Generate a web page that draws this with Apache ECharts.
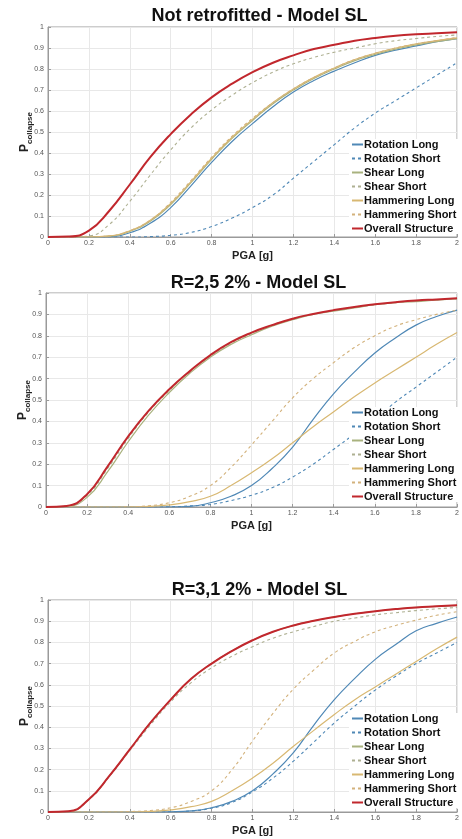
<!DOCTYPE html>
<html>
<head>
<meta charset="utf-8">
<script src="https://cdn.jsdelivr.net/npm/echarts@6/dist/echarts.min.js"></script>
<style>
  html, body { margin: 0; padding: 0; background: #fff; }
  #chart { width: 462px; height: 839px; }
</style>
</head>
<body>
<div id="chart"></div>
<script>
// PGA [g] sample points
const xs = [0, 0.1, 0.2, 0.3, 0.4, 0.5, 0.6, 0.7, 0.8, 0.9, 1.0, 1.1, 1.2, 1.3, 1.4, 1.5, 1.6, 1.7, 1.8, 1.9, 2.0];

const titles = ["Not retrofitted - Model SL", "R=2,5 2% - Model SL", "R=3,1 2% - Model SL"];
const seriesNames = ["Rotation Long", "Rotation Short", "Shear Long", "Shear Short", "Hammering Long", "Hammering Short", "Overall Structure"];

// panel 1 - not retrofitted
const p1RotLong = [0, 0, 0, 0.002, 0.02, 0.065, 0.14, 0.245, 0.355, 0.455, 0.54, 0.62, 0.69, 0.745, 0.79, 0.83, 0.865, 0.89, 0.91, 0.93, 0.945];
const p1RotShort = [0, 0, 0, 0, 0, 0.002, 0.008, 0.022, 0.05, 0.09, 0.14, 0.2, 0.28, 0.36, 0.44, 0.52, 0.59, 0.65, 0.71, 0.77, 0.83];
const p1ShearLong = [0, 0, 0, 0.004, 0.027, 0.075, 0.155, 0.26, 0.37, 0.47, 0.555, 0.635, 0.7, 0.755, 0.8, 0.84, 0.87, 0.895, 0.915, 0.93, 0.945];
const p1ShearShort = [0, 0, 0.005, 0.06, 0.17, 0.295, 0.415, 0.52, 0.605, 0.675, 0.735, 0.785, 0.825, 0.855, 0.88, 0.9, 0.92, 0.935, 0.945, 0.955, 0.962];
const p1HamLong = [0, 0, 0, 0.005, 0.03, 0.08, 0.16, 0.265, 0.375, 0.475, 0.56, 0.64, 0.705, 0.76, 0.805, 0.845, 0.875, 0.9, 0.92, 0.935, 0.948];
const p1HamShort = [0, 0, 0, 0.005, 0.03, 0.08, 0.165, 0.27, 0.38, 0.48, 0.565, 0.64, 0.705, 0.76, 0.805, 0.845, 0.875, 0.9, 0.92, 0.935, 0.95];
const p1Overall = [0, 0.002, 0.03, 0.125, 0.25, 0.38, 0.49, 0.585, 0.665, 0.73, 0.785, 0.83, 0.865, 0.895, 0.915, 0.935, 0.948, 0.958, 0.965, 0.97, 0.975];

// panel 2 - R=2,5
const p2RotLong = [0, 0, 0, 0, 0, 0, 0, 0.003, 0.02, 0.05, 0.1, 0.18, 0.28, 0.41, 0.53, 0.63, 0.72, 0.79, 0.85, 0.89, 0.92];
const p2RotShort = [0, 0, 0, 0, 0, 0, 0.001, 0.005, 0.012, 0.03, 0.055, 0.09, 0.14, 0.2, 0.27, 0.34, 0.41, 0.49, 0.56, 0.63, 0.7];
const p2ShearLong = [0, 0.003, 0.045, 0.165, 0.305, 0.43, 0.535, 0.625, 0.7, 0.76, 0.805, 0.845, 0.875, 0.9, 0.915, 0.93, 0.945, 0.955, 0.96, 0.967, 0.972];
const p2ShearShort = [0, 0.004, 0.055, 0.18, 0.32, 0.445, 0.545, 0.635, 0.705, 0.765, 0.81, 0.85, 0.88, 0.9, 0.918, 0.932, 0.945, 0.955, 0.962, 0.968, 0.973];
const p2HamLong = [0, 0, 0, 0, 0, 0.003, 0.01, 0.025, 0.05, 0.1, 0.16, 0.225, 0.3, 0.375, 0.445, 0.515, 0.58, 0.64, 0.7, 0.76, 0.815];
const p2HamShort = [0, 0, 0, 0, 0.001, 0.006, 0.02, 0.05, 0.1, 0.185, 0.29, 0.4, 0.51, 0.6, 0.675, 0.745, 0.8, 0.845, 0.875, 0.9, 0.92];
const p2Overall = [0, 0.005, 0.06, 0.19, 0.33, 0.45, 0.55, 0.635, 0.71, 0.77, 0.815, 0.85, 0.88, 0.902, 0.92, 0.935, 0.947, 0.957, 0.965, 0.97, 0.975];

// panel 3 - R=3,1
const p3RotLong = [0, 0, 0, 0, 0, 0, 0.001, 0.005, 0.02, 0.05, 0.1, 0.18, 0.28, 0.41, 0.53, 0.63, 0.72, 0.79, 0.855, 0.89, 0.92];
const p3RotShort = [0, 0, 0, 0, 0, 0, 0.001, 0.005, 0.018, 0.045, 0.095, 0.16, 0.24, 0.33, 0.42, 0.5, 0.575, 0.64, 0.7, 0.75, 0.8];
const p3ShearLong = [0, 0.003, 0.06, 0.17, 0.295, 0.42, 0.53, 0.628, 0.7, 0.76, 0.81, 0.85, 0.88, 0.902, 0.92, 0.935, 0.947, 0.957, 0.965, 0.97, 0.975];
const p3ShearShort = [0, 0.003, 0.058, 0.168, 0.29, 0.41, 0.52, 0.61, 0.68, 0.735, 0.78, 0.82, 0.85, 0.875, 0.9, 0.915, 0.93, 0.94, 0.95, 0.958, 0.965];
const p3HamLong = [0, 0, 0, 0, 0, 0.003, 0.01, 0.025, 0.05, 0.1, 0.16, 0.23, 0.31, 0.385, 0.46, 0.53, 0.59, 0.65, 0.71, 0.77, 0.825];
const p3HamShort = [0, 0, 0, 0, 0.002, 0.007, 0.02, 0.05, 0.1, 0.2, 0.335, 0.465, 0.58, 0.67, 0.75, 0.805, 0.85, 0.88, 0.905, 0.928, 0.945];
const p3Overall = [0, 0.003, 0.06, 0.17, 0.295, 0.42, 0.53, 0.628, 0.7, 0.76, 0.81, 0.85, 0.88, 0.902, 0.92, 0.935, 0.947, 0.957, 0.965, 0.97, 0.975];

const panels = [
  [p1RotLong, p1RotShort, p1ShearLong, p1ShearShort, p1HamLong, p1HamShort, p1Overall],
  [p2RotLong, p2RotShort, p2ShearLong, p2ShearShort, p2HamLong, p2HamShort, p2Overall],
  [p3RotLong, p3RotShort, p3ShearLong, p3ShearShort, p3HamLong, p3HamShort, p3Overall],
];

const colors = ["#4f88b6", "#4f88b6", "#a9b27e", "#aeb092", "#d8b872", "#d3b27c", "#c1272d"];
const dashed = [false, true, false, true, false, true, false];
const widths = [1.2, 1.1, 1.2, 1.1, 1.2, 1.1, 2];

// layout of the three plots (px)
const grids = [
  { top: 27, height: 210, left: 48 },
  { top: 293, height: 214, left: 46 },
  { top: 600, height: 212, left: 48 },
];
const titleTops = [2, 269, 576];
const legendTops = [139, 407, 713];

const font = "Liberation Sans, Arial, Helvetica, sans-serif";
const chart = echarts.init(document.getElementById("chart"));

const option = {
  animation: false,
  backgroundColor: "#fff",
  title: titles.map((t, i) => ({
    text: t,
    left: grids[i].left + (462 - 1 - grids[i].left) / 2,
    textAlign: "center",
    top: titleTops[i],
    textStyle: { fontFamily: font, fontSize: 18, fontWeight: "bold", color: "#111" },
  })),
  legend: panels.map((p, i) => ({
    orient: "vertical",
    left: 349,
    top: legendTops[i],
    padding: [0, 2, 0, 2],
    backgroundColor: "#fff",
    itemWidth: 11,
    itemHeight: 8,
    itemGap: 3,
    itemStyle: { opacity: 0 },
    data: seriesNames.map((n) => n + "#" + i),
    formatter: (name) => name.split("#")[0],
    textStyle: { fontFamily: font, fontSize: 11, fontWeight: "bold", color: "#111", lineHeight: 11, padding: [0, 0, 0, -4] },
  })),
  grid: grids.map((g) => ({
    left: g.left,
    right: 1,
    top: g.top,
    height: g.height,
    show: true,
    borderColor: "#9a9a9a",
    borderWidth: 1,
  })),
  xAxis: grids.map((g, i) => ({
    type: "value",
    gridIndex: i,
    min: 0,
    max: 2,
    interval: 0.2,
    name: "PGA [g]",
    nameLocation: "middle",
    nameGap: 13,
    nameMoveOverlap: false,
    nameTextStyle: { fontFamily: font, fontSize: 11, fontWeight: "bold", color: "#222" },
    axisLine: { lineStyle: { color: "#9a9a9a" } },
    axisTick: { inside: true, length: 3, lineStyle: { color: "#9a9a9a" } },
    axisLabel: { fontFamily: font, fontSize: 7, color: "#555", margin: 3 },
    splitLine: { lineStyle: { color: "#e8e8e8", width: 1 } },
  })),
  yAxis: grids.map((g, i) => ({
    type: "value",
    gridIndex: i,
    min: 0,
    max: 1,
    interval: 0.1,
    name: "{p|P}{s|collapse}",
    nameLocation: "middle",
    nameRotate: 90,
    nameGap: 14,
    nameMoveOverlap: false,
    nameTextStyle: {
      rich: {
        p: { fontFamily: font, fontSize: 12, fontWeight: "bold", color: "#222", verticalAlign: "top", lineHeight: 15 },
        s: { fontFamily: font, fontSize: 8, fontWeight: "bold", color: "#222", verticalAlign: "bottom", lineHeight: 15 },
      },
    },
    axisLine: { lineStyle: { color: "#9a9a9a" } },
    axisTick: { inside: true, length: 3, lineStyle: { color: "#9a9a9a" } },
    axisLabel: { fontFamily: font, fontSize: 7, color: "#555", margin: 4 },
    splitLine: { lineStyle: { color: "#e8e8e8", width: 1 } },
  })),
  series: [],
};

panels.forEach((p, i) => {
  p.forEach((vals, k) => {
    option.series.push({
      name: seriesNames[k] + "#" + i,
      type: "line",
      xAxisIndex: i,
      yAxisIndex: i,
      smooth: true,
      symbol: "none",
      z: k === 6 ? 5 : 3,
      color: colors[k],
      lineStyle: { color: colors[k], width: widths[k], type: dashed[k] ? [3, 3] : "solid" },
      data: xs.map((x, j) => [x, vals[j]]),
    });
  });
});

chart.setOption(option);
</script>
</body>
</html>
